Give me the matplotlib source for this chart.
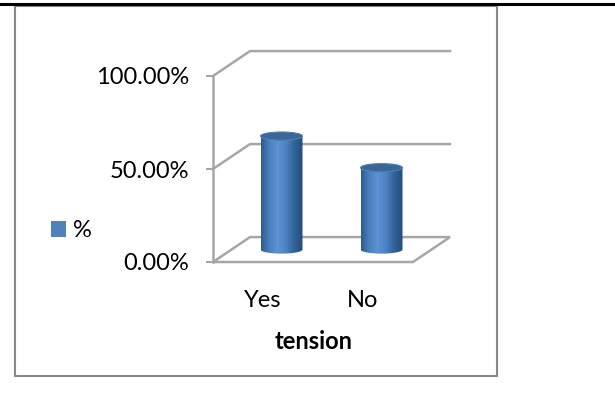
import numpy as np
import matplotlib
matplotlib.use("Agg")
import matplotlib.pyplot as plt
from matplotlib.patches import Ellipse, Polygon, Rectangle, Patch, PathPatch
from matplotlib.path import Path
from matplotlib.lines import Line2D
from matplotlib.colors import LinearSegmentedColormap

# --- datos ---
categories = ["Yes", "No"]
values = [61.0, 44.0]
yticks = [0, 50, 100]
series_name = "%"
axis_title = "tension"

# --- estilo ---
plt.rcParams['font.family'] = ['Lato', 'DejaVu Sans']
GRID = "#a6a6a6"
BLUE = "#4f81bd"
DX, DY = 0.37, 13.4            # desplazamiento de profundidad (unidades de datos)
BAR_W = 0.42                   # ancho del cilindro
ELL = 2.2                      # semieje vertical de las elipses
FS = 17
W, H = 615, 404

fig = plt.figure(figsize=(W / 100, H / 100), dpi=100)

# linea negra superior y marco gris del grafico
fig.add_artist(Line2D([0, 1], [1 - 4 / H, 1 - 4 / H], color="black", lw=2.2, transform=fig.transFigure))
fig.add_artist(Rectangle((15 / W, 1 - 376 / H), (497 - 15) / W, (376 - 6) / H, fill=False,
                         edgecolor="#888888", lw=1.5, transform=fig.transFigure))

ax = fig.add_axes([213 / W, 1 - 262 / H, 250 / W, 222 / H])
n = len(categories)
xlim = (0, 2.5)
ylim = (0, 222 / 1.86)

# paredes: lineas de la cuadricula al fondo
for v in yticks[1:]:
    ax.plot([0, DX, n + DX], [v, v + DY, v + DY], color=GRID, lw=1.8, clip_on=False, zorder=1)
# piso
ax.add_patch(Polygon([(0, 0), (n, 0), (n + DX, DY), (DX, DY)], closed=True, fill=False,
                     edgecolor=GRID, lw=1.8, clip_on=False, zorder=1))

# cilindros (degradado horizontal recortado a la forma del cilindro)
cmap = LinearSegmentedColormap.from_list("cyl", ["#2d5b8d", "#4c80c0", "#5c91d3", "#4d81c2", "#316297", "#264c7e"])
grad = np.linspace(0, 1, 200).reshape(1, -1)
for i, v in enumerate(values):
    xc = i + 0.5 + DX / 2
    base = DY / 2
    top = v + DY / 2
    l, r = xc - BAR_W / 2, xc + BAR_W / 2
    t = np.linspace(np.pi, 2 * np.pi, 40)
    verts = [(l, top), (l, base)] + [(xc + BAR_W / 2 * np.cos(a), base + ELL * np.sin(a)) for a in t] + [(r, top), (l, top)]
    body = PathPatch(Path(verts), facecolor="none", edgecolor="none")
    ax.add_patch(body)
    im = ax.imshow(grad, cmap=cmap, extent=[l, r, base - ELL, top], aspect="auto", zorder=2, interpolation="bilinear")
    im.set_clip_path(body)
    ax.add_patch(Ellipse((xc, top), BAR_W, 2 * ELL, facecolor="#3a6698", edgecolor="#4f7fb8", lw=0.8, zorder=3))

ax.set_xlim(*xlim)
ax.set_ylim(*ylim)

# eje y
ax.set_yticks(yticks)
ax.set_yticklabels([f"{v:.2f}%" for v in yticks], fontsize=FS)
ax.tick_params(axis="y", direction="out", length=5, width=1.5, color=GRID, pad=12)
ax.spines["left"].set_bounds(0, 100)
ax.spines["left"].set_color(GRID)
ax.spines["left"].set_linewidth(1.8)
for s in ["top", "right", "bottom"]:
    ax.spines[s].set_visible(False)

# eje x
ax.set_xticks(np.arange(n) + 0.5)
ax.set_xticklabels(categories, fontsize=FS)
ax.tick_params(axis="x", length=0, pad=20)
ax.set_xlabel(axis_title, fontsize=FS, fontweight="bold")
ax.xaxis.set_label_coords(0.404, -0.305)
ax.patch.set_visible(False)

# leyenda
fig.legend(handles=[Patch(facecolor=BLUE, label=series_name)], loc="center left",
           bbox_to_anchor=(51 / W, 1 - 231 / H), frameon=False, fontsize=FS,
           handlelength=0.64, handleheight=0.64, handletextpad=0.3, borderpad=0, borderaxespad=0)

fig.savefig("out.png", dpi=100)
